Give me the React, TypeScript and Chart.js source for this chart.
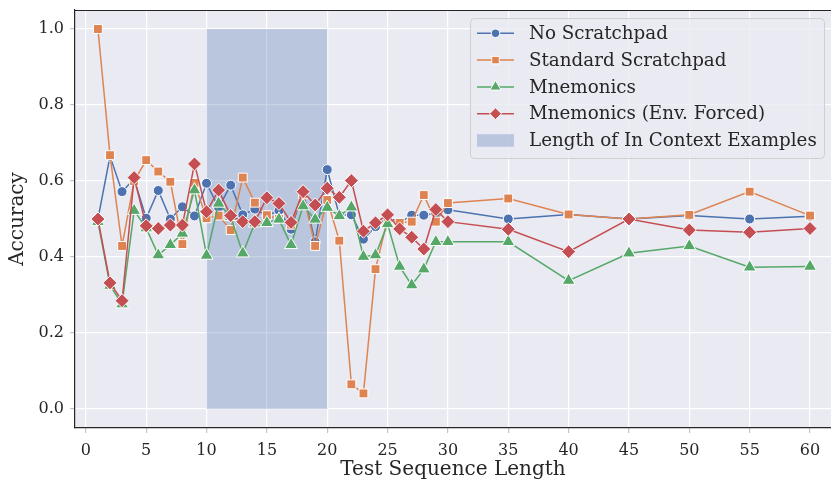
import React, { useEffect, useRef } from "react";
import { Chart, registerables } from "chart.js";

Chart.register(...registerables);

// Test sequence lengths evaluated
const seqLengths = [
  1, 2, 3, 4, 5, 6, 7, 8, 9, 10, 11, 12, 13, 14, 15, 16, 17, 18, 19, 20,
  21, 22, 23, 24, 25, 26, 27, 28, 29, 30, 35, 40, 45, 50, 55, 60,
];

// Accuracy per method
const noScratchpad = [
  0.5, 0.665, 0.572, 0.605, 0.502, 0.575, 0.5, 0.532, 0.508, 0.594, 0.53, 0.589,
  0.511, 0.526, 0.509, 0.522, 0.473, 0.571, 0.44, 0.63, 0.51, 0.511, 0.447, 0.48,
  0.505, 0.49, 0.51, 0.51, 0.515, 0.524, 0.5, 0.512, 0.5, 0.509, 0.5, 0.507,
];
const standardScratchpad = [
  1.0, 0.668, 0.429, 0.6, 0.655, 0.625, 0.598, 0.434, 0.595, 0.502, 0.509, 0.471,
  0.609, 0.543, 0.51, 0.5, 0.485, 0.565, 0.429, 0.55, 0.443, 0.065, 0.041, 0.368,
  0.5, 0.49, 0.493, 0.563, 0.493, 0.542, 0.554, 0.512, 0.5, 0.511, 0.572, 0.509,
];
const mnemonics = [
  0.493, 0.325, 0.276, 0.522, 0.476, 0.405, 0.432, 0.462, 0.576, 0.404, 0.541, 0.506,
  0.41, 0.489, 0.49, 0.499, 0.432, 0.534, 0.499, 0.53, 0.508, 0.531, 0.401, 0.405,
  0.487, 0.375, 0.326, 0.368, 0.44, 0.44, 0.44, 0.338, 0.41, 0.429, 0.373, 0.375,
];
const mnemonicsForced = [
  0.5, 0.332, 0.285, 0.609, 0.482, 0.475, 0.484, 0.484, 0.645, 0.519, 0.576, 0.509,
  0.493, 0.493, 0.556, 0.541, 0.491, 0.572, 0.537, 0.581, 0.557, 0.601, 0.468, 0.49,
  0.511, 0.474, 0.452, 0.421, 0.525, 0.493, 0.473, 0.414, 0.5, 0.471, 0.465, 0.475,
];

// Range of lengths seen in the in-context examples
const contextRange = [10, 20];

const xTicks = [0, 5, 10, 15, 20, 25, 30, 35, 40, 45, 50, 55, 60];
const yTicks = [0, 0.2, 0.4, 0.6, 0.8, 1.0];

const FONT = "'DejaVu Serif', serif";
const TEXT = "#262626";
const BG = "#EAEAF2";

// The axes run past the right edge of the visible figure, so the canvas is a
// little wider than its frame.
const VIEW_W = 831;
const VIEW_H = 481;
const CANVAS_W = 845;

type Series = {
  label: string;
  values: number[];
  color: string;
  style: string;
  radius: number;
};

const series: Series[] = [
  { label: "No Scratchpad", values: noScratchpad, color: "#4C72B0", style: "circle", radius: 5 },
  { label: "Standard Scratchpad", values: standardScratchpad, color: "#DD8452", style: "rect", radius: 6.3 },
  { label: "Mnemonics", values: mnemonics, color: "#55A868", style: "triangle", radius: 7.5 },
  { label: "Mnemonics (Env. Forced)", values: mnemonicsForced, color: "#C44E52", style: "rectRot", radius: 7 },
];
const shadeLabel = "Length of In Context Examples";
const shadeColor = "rgba(76, 114, 176, 0.3)";

function markerPath(ctx: CanvasRenderingContext2D, style: string, x: number, y: number, r: number) {
  ctx.beginPath();
  if (style === "circle") {
    ctx.arc(x, y, r, 0, Math.PI * 2);
  } else if (style === "rect") {
    const s = r * Math.SQRT1_2;
    ctx.rect(x - s, y - s, 2 * s, 2 * s);
  } else if (style === "triangle") {
    for (let k = 0; k < 3; k++) {
      const a = (k * 2 * Math.PI) / 3;
      const px = x + Math.sin(a) * r;
      const py = y - Math.cos(a) * r;
      if (k === 0) ctx.moveTo(px, py);
      else ctx.lineTo(px, py);
    }
  } else {
    ctx.moveTo(x - r, y);
    ctx.lineTo(x, y - r);
    ctx.lineTo(x + r, y);
    ctx.lineTo(x, y + r);
  }
  ctx.closePath();
}

const backgroundPlugin = {
  id: "axesBackground",
  beforeDraw(chart: any) {
    const { ctx, chartArea: a } = chart;
    ctx.save();
    ctx.fillStyle = "#ffffff";
    ctx.fillRect(0, 0, chart.width, chart.height);
    ctx.fillStyle = BG;
    ctx.fillRect(a.left, a.top, a.right - a.left, a.bottom - a.top);
    ctx.restore();
  },
};

const shadePlugin = {
  id: "contextShade",
  beforeDatasetsDraw(chart: any) {
    const { ctx, scales } = chart;
    const x0 = scales.x.getPixelForValue(contextRange[0]);
    const x1 = scales.x.getPixelForValue(contextRange[1]);
    const y0 = scales.y.getPixelForValue(1);
    const y1 = scales.y.getPixelForValue(0);
    ctx.save();
    ctx.fillStyle = shadeColor;
    ctx.fillRect(x0, y0, x1 - x0, y1 - y0);
    ctx.restore();
  },
};

const framePlugin = {
  id: "topSpine",
  afterDraw(chart: any) {
    const { ctx, chartArea: a } = chart;
    ctx.save();
    ctx.strokeStyle = TEXT;
    ctx.lineWidth = 1.2;
    ctx.beginPath();
    ctx.moveTo(a.left, a.top + 0.5);
    ctx.lineTo(a.right, a.top + 0.5);
    ctx.stroke();
    ctx.restore();
  },
};

const legendPlugin = {
  id: "customLegend",
  afterDraw(chart: any) {
    const { ctx, chartArea: a } = chart;
    const left = a.left + 395;
    const top = a.top + 8;
    const w = 354;
    const h = 140;
    ctx.save();
    ctx.beginPath();
    (ctx as any).roundRect(left + 0.5, top + 0.5, w, h, 4);
    ctx.fillStyle = "rgba(234, 234, 242, 0.8)";
    ctx.fill();
    ctx.strokeStyle = "rgba(204, 204, 204, 0.9)";
    ctx.lineWidth = 1;
    ctx.stroke();

    const rowY = (i: number) => top + 15.3 + i * 26.8;
    const hx0 = left + 7;
    const hx1 = left + 44;
    const textX = left + 59;
    ctx.font = `18.3px ${FONT}`;
    ctx.textBaseline = "middle";
    ctx.textAlign = "left";

    series.forEach((s, i) => {
      const y = rowY(i);
      ctx.strokeStyle = s.color;
      ctx.lineWidth = 1.5;
      ctx.beginPath();
      ctx.moveTo(hx0, y);
      ctx.lineTo(hx1, y);
      ctx.stroke();
      markerPath(ctx, s.style, (hx0 + hx1) / 2, y, s.radius * 0.85);
      ctx.fillStyle = s.color;
      ctx.fill();
      ctx.strokeStyle = "#ffffff";
      ctx.lineWidth = 1;
      ctx.stroke();
      ctx.fillStyle = TEXT;
      ctx.fillText(s.label, textX, y + 1);
    });

    const ys = rowY(series.length);
    ctx.fillStyle = shadeColor;
    ctx.fillRect(hx0, ys - 6.3, hx1 - hx0, 12.6);
    ctx.fillStyle = TEXT;
    ctx.fillText(shadeLabel, textX, ys + 1);
    ctx.restore();
  },
};

export default function App() {
  const canvasRef = useRef<HTMLCanvasElement | null>(null);

  useEffect(() => {
    document.body.style.margin = "0";
    const canvas = canvasRef.current;
    if (!canvas) return;

    const chart = new Chart(canvas, {
      type: "line",
      data: {
        datasets: series.map((s, i) => ({
          label: s.label,
          data: seqLengths.map((x, k) => ({ x, y: s.values[k] })),
          borderColor: s.color,
          backgroundColor: s.color,
          borderWidth: 1.5,
          pointStyle: s.style as any,
          pointRadius: s.radius,
          pointBackgroundColor: s.color,
          pointBorderColor: "#ffffff",
          pointBorderWidth: 1,
          tension: 0,
          fill: false,
          order: series.length - 1 - i,
        })),
      },
      options: {
        animation: false,
        responsive: false,
        devicePixelRatio: 1,
        layout: { autoPadding: false, padding: { top: 10, right: 0, bottom: 0, left: 0 } },
        plugins: {
          legend: { display: false },
          tooltip: { enabled: false },
        },
        scales: {
          x: {
            type: "linear",
            min: -0.9,
            max: 62.9,
            afterBuildTicks: (scale: any) => {
              scale.ticks = xTicks.map((v) => ({ value: v }));
            },
            afterFit: (scale: any) => {
              scale.height = 53;
              scale.paddingLeft = 0;
              scale.paddingRight = 0;
            },
            grid: {
              color: "#ffffff",
              lineWidth: 1.2,
              drawTicks: true,
              tickLength: 5,
              tickColor: "#c4c4c8",
            },
            border: { display: true, color: TEXT, width: 1.2 },
            ticks: {
              color: TEXT,
              font: { family: FONT, size: 16 },
              padding: 8,
              maxRotation: 0,
              callback: (v: any) => String(v),
            },
            title: {
              display: false,
            },
          },
          y: {
            type: "linear",
            min: -0.05,
            max: 1.05,
            afterBuildTicks: (scale: any) => {
              scale.ticks = yTicks.map((v) => ({ value: v }));
            },
            afterFit: (scale: any) => {
              scale.width = 75;
              scale.paddingTop = 0;
              scale.paddingBottom = 0;
            },
            grid: {
              color: "#ffffff",
              lineWidth: 1.2,
              drawTicks: true,
              tickLength: 5,
              tickColor: "#c4c4c8",
            },
            border: { display: true, color: TEXT, width: 1.2 },
            ticks: {
              color: TEXT,
              font: { family: FONT, size: 16 },
              padding: 6,
              callback: (v: any) => Number(v).toFixed(1),
            },
            title: {
              display: true,
              text: "Accuracy",
              color: TEXT,
              font: { family: FONT, size: 20 },
              padding: { top: 6, bottom: 0 },
            },
          },
        },
      },
      plugins: [backgroundPlugin, shadePlugin, framePlugin, legendPlugin],
    });

    return () => chart.destroy();
  }, []);

  return (
    <div
      style={{
        position: "absolute",
        left: 0,
        top: 0,
        width: VIEW_W,
        height: VIEW_H,
        overflow: "hidden",
        background: "#ffffff",
      }}
    >
      <canvas ref={canvasRef} width={CANVAS_W} height={VIEW_H} style={{ display: "block" }} />
      {/* x-axis title, centred on the visible axes */}
      <div
        style={{
          position: "absolute",
          left: 75,
          width: VIEW_W - 75,
          top: 456,
          textAlign: "center",
          fontFamily: FONT,
          fontSize: 20,
          lineHeight: "24px",
          color: TEXT,
        }}
      >
        Test Sequence Length
      </div>
    </div>
  );
}
